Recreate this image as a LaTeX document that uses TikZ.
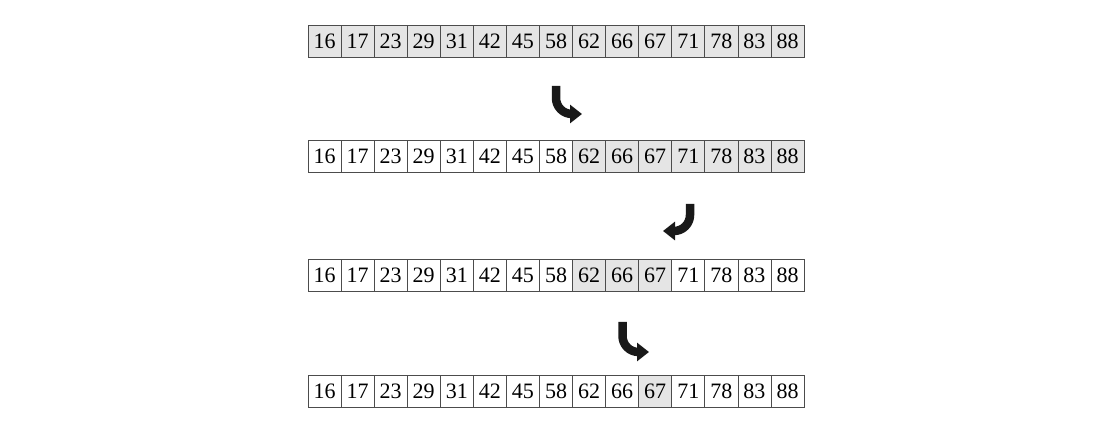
\documentclass[tikz,border=0pt]{standalone}
\usepackage{fontspec}
\setmainfont{Liberation Serif}
\usetikzlibrary{positioning, arrows.meta}
\tikzset{
cell/.style={draw=black!70, line width=0.8pt, minimum width=33.07pt,
  minimum height=31.5pt, inner sep=0pt, outer sep=0pt,
  font=\fontsize{22}{24}\selectfont},
hl/.style={cell, fill=black!10},
turn/.style={-{Triangle[length=12pt,width=18pt]}, line width=8.5pt,
  rounded corners=16pt, draw=black!90}
}

\begin{document}
\begin{tikzpicture}[x=1pt,y=-1pt]
\useasboundingbox (0,0) rectangle (1120,430);
% the four rows, shaded part from \lo to \hi
\foreach \r/\y/\lo/\hi in {1/41.5/1/15, 2/156.5/9/15, 3/275.5/9/11, 4/391.5/11/11} {
  \coordinate (r\r-0) at (308,\y);
  \foreach \v [count=\i] in {16,17,23,29,31,42,45,58,62,66,67,71,78,83,88} {
    \pgfmathtruncatemacro\j{\i-1}
    \def\st{cell}
    \ifnum\i<\lo \else \ifnum\i>\hi \else \def\st{hl}\fi\fi
    \node[\st, right=0pt of r\r-\j] (r\r-\i) {\v};
  }
}
% arrows between the rows
\coordinate (a1s) at (556,86);   \coordinate (a1e) at (582,114);
\coordinate (a2s) at (690,204);  \coordinate (a2e) at (663,231);
\coordinate (a3s) at (622.5,322);\coordinate (a3e) at (649,352);
\draw[turn] (a1s) |- (a1e);
\draw[turn] (a2s) |- (a2e);
\draw[turn] (a3s) |- (a3e);
\end{tikzpicture}
\end{document}
